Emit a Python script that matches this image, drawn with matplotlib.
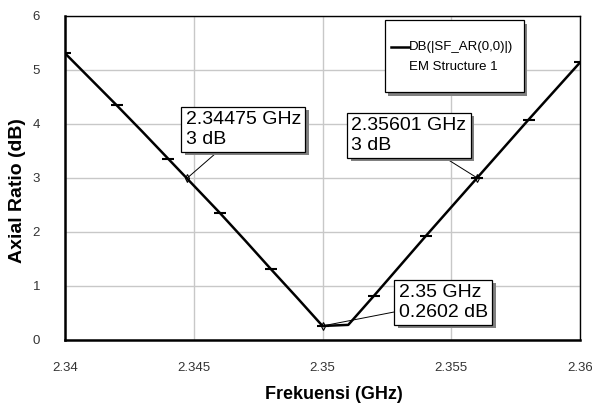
import numpy as np
import matplotlib
matplotlib.use("Agg")
import matplotlib.pyplot as plt
import matplotlib.patheffects as pe
from matplotlib.patches import Rectangle

plt.rcParams['font.family'] = ['Liberation Sans', 'DejaVu Sans']

# frequency sweep (GHz) and axial ratio (dB)
freq = [2.340, 2.341, 2.342, 2.343, 2.344, 2.345, 2.346, 2.347, 2.348, 2.349, 2.350,
        2.351, 2.352, 2.353, 2.354, 2.355, 2.356, 2.357, 2.358, 2.359, 2.360]
ar_db = [5.31, 4.83, 4.35, 3.86, 3.36, 2.86, 2.36, 1.84, 1.31, 0.79, 0.26,
         0.28, 0.82, 1.37, 1.92, 2.46, 3.00, 3.54, 4.08, 4.61, 5.14]

# marked points (every 2 MHz)
mark_freq = freq[::2]
mark_ar = ar_db[::2]

# annotated points
ann_freq = [2.34475, 2.35601, 2.35]
ann_ar = [3.0, 3.0, 0.2602]
ann_text = ["2.34475 GHz\n3 dB", "2.35601 GHz\n3 dB", "2.35 GHz\n0.2602 dB"]
ann_pos = [(0.234, 0.650), (0.556, 0.632), (0.648, 0.116)]

xticks = [2.34, 2.345, 2.35, 2.355, 2.36]
xtick_labels = ["2.34", "2.345", "2.35", "2.355", "2.36"]
yticks = [0, 1, 2, 3, 4, 5, 6]

fig = plt.figure(figsize=(5.92, 4.05), dpi=100)
ax = fig.add_axes([0.1098, 0.1605, 0.870, 0.80])

ax.plot(freq, ar_db, color='black', lw=1.8, zorder=3)
ax.plot(mark_freq, mark_ar, ls='none', marker='_', ms=9, mew=1.5, color='black', zorder=4)

ax.set_xlim(2.34, 2.36)
ax.set_ylim(0, 6)
ax.set_xticks(xticks)
ax.set_xticklabels(xtick_labels)
ax.set_yticks(yticks)
ax.tick_params(length=0, labelsize=9.5, colors='#333333', pad=16)
ax.tick_params(axis='y', pad=18)
ax.grid(color='#c8c8c8', lw=1)
ax.set_axisbelow(True)
for side in ['left', 'bottom']:
    ax.spines[side].set_linewidth(1.8)
for side in ['top', 'right']:
    ax.spines[side].set_linewidth(1.0)

ax.set_xlabel("Frekuensi (GHz)", fontsize=13, fontweight='bold')
ax.set_ylabel("Axial Ratio (dB)", fontsize=14, fontweight='bold')
ax.xaxis.set_label_coords(0.522, -0.142)
ax.yaxis.set_label_coords(-0.076, 0.46)

shadow = [pe.SimplePatchShadow(offset=(2.5, -2.5), shadow_rgbFace='#808080', alpha=1), pe.Normal()]

for fx, fy, txt, pos in zip(ann_freq, ann_ar, ann_text, ann_pos):
    ax.plot([fx], [fy], marker='d', ms=4, mfc='none', mec='black', mew=0.8, zorder=5)
    a = ax.annotate(txt, xy=(fx, fy), xytext=pos, textcoords='axes fraction',
                    fontsize=14, ha='left', va='center', linespacing=1.2,
                    bbox=dict(boxstyle='square,pad=0.22', fc='white', ec='black', lw=0.9),
                    arrowprops=dict(arrowstyle='-', color='black', lw=0.7, shrinkA=0, shrinkB=0),
                    zorder=6)
    a.get_bbox_patch().set_path_effects(shadow)

# legend box
leg = Rectangle((0.621, 0.765), 0.270, 0.222, transform=ax.transAxes,
                fc='white', ec='black', lw=0.9, zorder=6)
leg.set_path_effects(shadow)
ax.add_patch(leg)
ax.plot([0.633, 0.667], [0.903, 0.903], transform=ax.transAxes, color='black', lw=1.8, zorder=7)
ax.text(0.667, 0.903, "DB(|SF_AR(0,0)|)", transform=ax.transAxes, fontsize=9.5,
        ha='left', va='center', zorder=7)
ax.text(0.754, 0.842, "EM Structure 1", transform=ax.transAxes, fontsize=9.5,
        ha='center', va='center', zorder=7)

fig.savefig("out.png", dpi=100)
